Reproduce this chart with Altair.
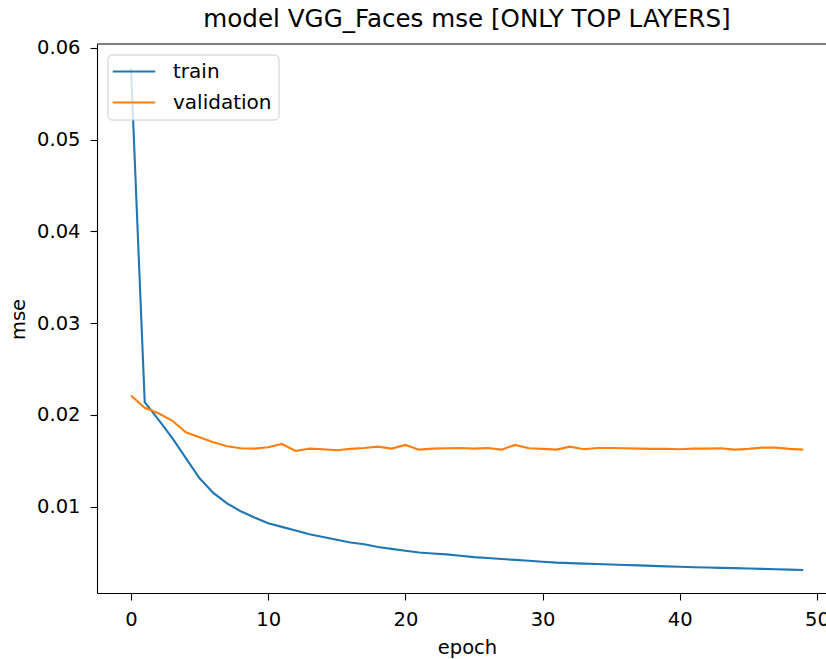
import altair as alt
import pandas as pd

epochs = list(range(50))

train = [0.0578, 0.0214, 0.0195, 0.0175, 0.0153, 0.0131, 0.0115, 0.01036, 0.0095, 0.00883,
         0.0082, 0.0078, 0.0074, 0.0070, 0.0067, 0.0064, 0.0061, 0.0059, 0.0056, 0.0054,
         0.0052, 0.0050, 0.0049, 0.0048, 0.00465, 0.0045, 0.0044, 0.0043, 0.0042, 0.0041,
         0.0040, 0.0039, 0.00385, 0.0038, 0.00375, 0.0037, 0.00365, 0.0036, 0.00355, 0.0035,
         0.00345, 0.0034, 0.00337, 0.00333, 0.0033, 0.00326, 0.00322, 0.00318, 0.00314, 0.0031]

validation = [0.02212, 0.02078, 0.02019, 0.01939, 0.01811, 0.01757, 0.01702, 0.01658, 0.01637, 0.01633,
              0.01648, 0.01684, 0.01608, 0.01633, 0.01626, 0.01615, 0.01630, 0.01640, 0.01655, 0.01633,
              0.01673, 0.01622, 0.01633, 0.01637, 0.01640, 0.01633, 0.01640, 0.01622, 0.01673, 0.01637,
              0.01630, 0.01622, 0.01655, 0.01626, 0.01640, 0.01640, 0.01637, 0.01633, 0.01630, 0.01630,
              0.01626, 0.01633, 0.01633, 0.01637, 0.01622, 0.01630, 0.01644, 0.01644, 0.01630, 0.01622]

series_names = ["train", "validation"]
series_colors = ["#1f77b4", "#ff7f0e"]
x_ticks = [0, 10, 20, 30, 40, 50]
y_ticks = [0.01, 0.02, 0.03, 0.04, 0.05, 0.06]

df = pd.DataFrame({
    "epoch": epochs * 2,
    "mse": train + validation,
    "series": ["train"] * len(train) + ["validation"] * len(validation),
})

FONT = "DejaVu Sans"
W, H = 729, 549

lines = alt.Chart(df).mark_line(strokeWidth=2.1).encode(
    x=alt.X("epoch:Q",
            scale=alt.Scale(domain=[-2.478, 50.66], nice=False, zero=False),
            axis=alt.Axis(values=x_ticks, format="d", title="epoch",
                          titleX=370, titleY=60, titleBaseline="alphabetic",
                          labelPadding=10, labelFlush=False)),
    y=alt.Y("mse:Q",
            scale=alt.Scale(domain=[0.000593, 0.060436], nice=False, zero=False),
            axis=alt.Axis(values=y_ticks, format=".2f", title="mse",
                          titleX=-73, titleY=275, titleBaseline="alphabetic",
                          labelPadding=10, labelFlush=False)),
    color=alt.Color("series:N",
                    scale=alt.Scale(domain=series_names, range=series_colors),
                    legend=alt.Legend(orient="none", legendX=10.5, legendY=10.5, title=None,
                                      symbolType="M-2.5,0H2.5", symbolSize=289,
                                      symbolStrokeWidth=2.1, symbolOffset=9.5,
                                      labelFontSize=20,
                                      labelFont=FONT, labelColor="black",
                                      labelOffset=29, padding=7, rowPadding=11,
                                      fillColor="rgba(255,255,255,0.8)",
                                      strokeColor="#cccccc", cornerRadius=4)),
)

top_spine = alt.Chart(pd.DataFrame({"k": [0]})).mark_rule(color="black", strokeWidth=1.1).encode(
    x=alt.value(0), x2=alt.value(W), y=alt.value(0)
)

chart = alt.layer(lines, top_spine).properties(
    width=W, height=H,
    title=alt.TitleParams("model VGG_Faces mse [ONLY TOP LAYERS]", fontSize=24.6, font=FONT,
                          fontWeight="normal", color="black", offset=5.5, dx=5.5),
    padding={"left": 97, "top": 44, "right": 0, "bottom": 66},
    autosize=alt.AutoSizeParams(type="none"),
).configure(background="white").configure_view(stroke=None).configure_axis(
    grid=False, domainColor="black", tickColor="black", domainWidth=1.1, tickWidth=1.1,
    tickSize=7, labelFont=FONT, titleFont=FONT, labelFontSize=19.5, titleFontSize=19.5,
    labelColor="black", titleColor="black", titleFontWeight="normal",
)

chart.save("out.html", embed_options={"renderer": "svg", "actions": False})
